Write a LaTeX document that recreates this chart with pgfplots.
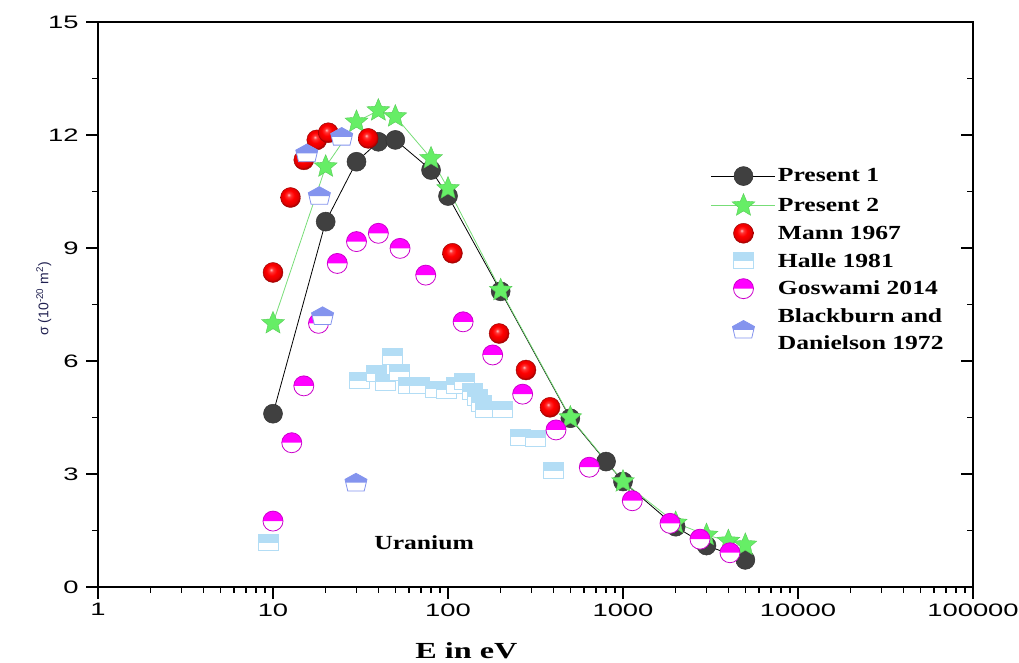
\documentclass[border=0pt]{standalone}
\usepackage{fontspec}
\setmainfont{Liberation Serif}
\usepackage{graphicx}
\usepackage{pgfplots}
\pgfplotsset{compat=1.18}
\newfontfamily\labfont{Liberation Sans}
\newfontfamily\legfont[FakeStretch=1.28]{Liberation Serif}
\newfontfamily\xlabfont[FakeStretch=1.4]{Liberation Serif}
\newcommand{\TL}[1]{\scalebox{1.52}[1]{\labfont\fontsize{18}{20}\selectfont #1}}

\definecolor{p1}{HTML}{404040}
\definecolor{p2}{HTML}{66EE66}
\definecolor{p2line}{HTML}{77DD77}
\definecolor{halle}{HTML}{B3DDF5}
\definecolor{gos}{HTML}{FF00FF}
\definecolor{gosd}{HTML}{CC00CC}
\definecolor{bb}{HTML}{8494EE}
\definecolor{ylab}{HTML}{202050}

\pgfdeclareradialshading{redballshade}{\pgfpoint{-5bp}{7bp}}{color(0bp)=(red!25!white); color(5bp)=(red!80!white); color(13bp)=(red); color(22bp)=(red!88!black); color(25bp)=(red!70!black); color(50bp)=(red!70!black)}

\pgfdeclareplotmark{redball}{%
  \pgfpathcircle{\pgfpointorigin}{\pgfplotmarksize}%
  \pgfshadepath{redballshade}{0}%
  \pgfpathcircle{\pgfpointorigin}{\pgfplotmarksize}%
  \pgfusepathqstroke
}
\pgfdeclareplotmark{fstar}{%
  \pgfpathmoveto{\pgfqpoint{0pt}{\pgfplotmarksize}}%
  \pgfpathlineto{\pgfqpoint{-0.2645\pgfplotmarksize}{0.364\pgfplotmarksize}}%
  \pgfpathlineto{\pgfqpoint{-0.951\pgfplotmarksize}{0.309\pgfplotmarksize}}%
  \pgfpathlineto{\pgfqpoint{-0.428\pgfplotmarksize}{-0.139\pgfplotmarksize}}%
  \pgfpathlineto{\pgfqpoint{-0.588\pgfplotmarksize}{-0.809\pgfplotmarksize}}%
  \pgfpathlineto{\pgfqpoint{0pt}{-0.45\pgfplotmarksize}}%
  \pgfpathlineto{\pgfqpoint{0.588\pgfplotmarksize}{-0.809\pgfplotmarksize}}%
  \pgfpathlineto{\pgfqpoint{0.428\pgfplotmarksize}{-0.139\pgfplotmarksize}}%
  \pgfpathlineto{\pgfqpoint{0.951\pgfplotmarksize}{0.309\pgfplotmarksize}}%
  \pgfpathlineto{\pgfqpoint{0.2645\pgfplotmarksize}{0.364\pgfplotmarksize}}%
  \pgfpathclose
  \pgfusepathqfillstroke
}
\pgfdeclareplotmark{halfcirc}{%
  \begin{pgfscope}\pgfsetfillcolor{white}%
  \pgfpathcircle{\pgfpointorigin}{\pgfplotmarksize}\pgfusepathqfill
  \end{pgfscope}%
  \pgfpathmoveto{\pgfqpoint{-\pgfplotmarksize}{0pt}}%
  \pgfpatharc{180}{0}{\pgfplotmarksize}%
  \pgfpathclose
  \pgfusepathqfill
  \pgfpathcircle{\pgfpointorigin}{\pgfplotmarksize}\pgfusepathqstroke
}
\pgfdeclareplotmark{halfsq}{%
  \begin{pgfscope}\pgfsetfillcolor{white}%
  \pgfpathrectanglecorners{\pgfqpoint{-\pgfplotmarksize}{-0.8\pgfplotmarksize}}{\pgfqpoint{\pgfplotmarksize}{0.8\pgfplotmarksize}}\pgfusepathqfill
  \end{pgfscope}%
  \pgfpathrectanglecorners{\pgfqpoint{-\pgfplotmarksize}{0pt}}{\pgfqpoint{\pgfplotmarksize}{0.8\pgfplotmarksize}}\pgfusepathqfill
  \pgfpathrectanglecorners{\pgfqpoint{-\pgfplotmarksize}{-0.8\pgfplotmarksize}}{\pgfqpoint{\pgfplotmarksize}{0.8\pgfplotmarksize}}\pgfusepathqstroke
}
\pgfdeclareplotmark{halfpent}{%
  \begin{pgfscope}\pgfsetfillcolor{white}%
  \pgfpathmoveto{\pgfqpoint{0pt}{0.85\pgfplotmarksize}}%
  \pgfpathlineto{\pgfqpoint{\pgfplotmarksize}{0.3\pgfplotmarksize}}%
  \pgfpathlineto{\pgfqpoint{0.75\pgfplotmarksize}{-0.75\pgfplotmarksize}}%
  \pgfpathlineto{\pgfqpoint{-0.75\pgfplotmarksize}{-0.75\pgfplotmarksize}}%
  \pgfpathlineto{\pgfqpoint{-\pgfplotmarksize}{0.3\pgfplotmarksize}}%
  \pgfpathclose\pgfusepathqfill
  \end{pgfscope}%
  \pgfpathmoveto{\pgfqpoint{0pt}{0.85\pgfplotmarksize}}%
  \pgfpathlineto{\pgfqpoint{\pgfplotmarksize}{0.3\pgfplotmarksize}}%
  \pgfpathlineto{\pgfqpoint{0.929\pgfplotmarksize}{0pt}}%
  \pgfpathlineto{\pgfqpoint{-0.929\pgfplotmarksize}{0pt}}%
  \pgfpathlineto{\pgfqpoint{-\pgfplotmarksize}{0.3\pgfplotmarksize}}%
  \pgfpathclose\pgfusepathqfill
  \pgfpathmoveto{\pgfqpoint{0pt}{0.85\pgfplotmarksize}}%
  \pgfpathlineto{\pgfqpoint{\pgfplotmarksize}{0.3\pgfplotmarksize}}%
  \pgfpathlineto{\pgfqpoint{0.75\pgfplotmarksize}{-0.75\pgfplotmarksize}}%
  \pgfpathlineto{\pgfqpoint{-0.75\pgfplotmarksize}{-0.75\pgfplotmarksize}}%
  \pgfpathlineto{\pgfqpoint{-\pgfplotmarksize}{0.3\pgfplotmarksize}}%
  \pgfpathclose\pgfusepathqstroke
}

\begin{document}
\begin{tikzpicture}
\path[use as bounding box] (-98pt,-76pt) rectangle (921pt,587pt);
\begin{axis}[
  at={(0pt,0pt)}, anchor=south west,
  scale only axis, width=875pt, height=565pt,
  xmode=log, xmin=1, xmax=100000, ymin=0, ymax=15,
  xtick={1,10,100,1000,10000,100000},
  xticklabels={\TL{1},\TL{10},\TL{100},\TL{1000},\TL{10000},\TL{100000}},
  minor xtick={2,3,4,5,6,7,8,9,20,30,40,50,60,70,80,90,200,300,400,500,600,700,800,900,2000,3000,4000,5000,6000,7000,8000,9000,20000,30000,40000,50000,60000,70000,80000,90000},
  ytick={0,3,6,9,12,15},
  yticklabels={\TL{0},\TL{3},\TL{6},\TL{9},\TL{12},\TL{15}},
  minor ytick={1.5,4.5,7.5,10.5,13.5},
  xtick pos=bottom, ytick pos=left, tick align=outside,
  major tick length=12pt, minor tick length=6pt,
  major tick style={line width=1.6pt, black},
  minor tick style={line width=1.4pt, black},
  axis line style={line width=1.6pt},
  xticklabel style={yshift=-1pt},
  yticklabel style={xshift=-4pt},
  ylabel={σ (10\textsuperscript{-20} m\textsuperscript{2})},
  ylabel style={font=\labfont\fontsize{14}{16}\selectfont, text=ylab, at={(axis description cs:-0.062,0.51)}, anchor=center},
  xlabel={E in eV},
  xlabel style={font=\xlabfont\bfseries\fontsize{23}{26}\selectfont, at={(axis description cs:0.421,0)}, yshift=-64pt, anchor=center},
  clip=false,
  legend image code/.code={\draw[mark repeat=2,mark phase=2,#1] plot coordinates {(0pt,0pt)(32pt,0pt)(64pt,0pt)};},
  legend style={at={(0.697,0.748)}, anchor=north west, draw=none, fill=none,
    font=\legfont\bfseries\fontsize{20}{27}\selectfont, row sep=8pt, cells={align=left}},
  legend cell align=left,
]
\addplot[color=black, line width=0.8pt, mark=*, mark size=9.5pt, mark options={fill=p1, draw=p1!80!black, line width=0.5pt}] table {
x y
10 4.6
20 9.7
30 11.29
40 11.82
50 11.87
80 11.07
100 10.38
200 7.85
500 4.48
800 3.33
1000 2.8
2000 1.6
3000 1.1
5000 0.72
};
\addlegendentry{Present 1}
\addplot[color=p2line, line width=0.8pt, mark=fstar, mark size=12pt, mark options={fill=p2, draw=p2!85!black, line width=0.4pt}] table {
x y
10 7.0
20 11.16
30 12.35
40 12.65
50 12.49
80 11.38
100 10.58
200 7.88
500 4.5
1000 2.8
2000 1.7
3000 1.38
4000 1.22
5000 1.12
};
\addlegendentry{Present 2}
\addplot[only marks, mark=redball, mark size=10pt, mark options={draw=red!60!black, line width=0.4pt}] table {
x y
10 8.35
12.6 10.34
15 11.34
17.8 11.87
20.7 12.06
35 11.91
106 8.86
196 6.73
279 5.76
383 4.77
};
\addlegendentry{Mann 1967}
\addplot[only marks, mark=halfsq, mark size=10pt, mark options={fill=halle, draw=halle, line width=1pt}] table {
x y
9.4 1.17
31.4 5.48
38.9 5.66
43.7 5.44
48.3 6.13
53 5.70
59.2 5.34
68.6 5.34
84.3 5.25
98 5.23
112 5.36
125 5.45
138 5.18
148 5.04
155 4.88
163 4.70
204 4.70
258 3.97
317 3.95
403 3.09
};
\addlegendentry{Halle 1981}
\addplot[only marks, mark=halfcirc, mark size=10pt, mark options={fill=gos, draw=gosd, line width=0.8pt}] table {
x y
10 1.75
12.8 3.83
15 5.34
18.2 7.0
23.3 8.59
30 9.17
40 9.39
53.2 8.99
74.6 8.28
122 7.04
180 6.16
267 5.12
414 4.17
642 3.18
1130 2.29
1856 1.69
2754 1.27
4086 0.91
};
\addlegendentry{Goswami 2014}
\addplot[only marks, mark=halfpent, mark size=11pt, mark options={fill=bb, draw=bb, line width=0.8pt}] table {
x y
15.6 11.51
18.4 10.38
19.2 7.19
24.7 11.95
29.8 2.77
};
\addlegendentry{Blackburn and\\Danielson 1972}
\node[font=\legfont\bfseries\fontsize{20}{24}\selectfont] at (axis cs:73,1.17) {Uranium};
\end{axis}
\begin{axis}[
  at={(0pt,0pt)}, anchor=south west,
  scale only axis, width=875pt, height=565pt,
  xmin=0, xmax=1, ymin=0, ymax=15,
  axis x line=none, axis y line*=right,
  ytick={0,3,6,9,12,15}, minor ytick={1.5,4.5,7.5,10.5,13.5},
  yticklabels={}, tick align=inside,
  major tick length=12pt, minor tick length=6pt,
  major tick style={line width=1.6pt, black},
  minor tick style={line width=1.4pt, black},
  axis line style={line width=1.6pt, -},
]
\end{axis}
\end{tikzpicture}
\end{document}
